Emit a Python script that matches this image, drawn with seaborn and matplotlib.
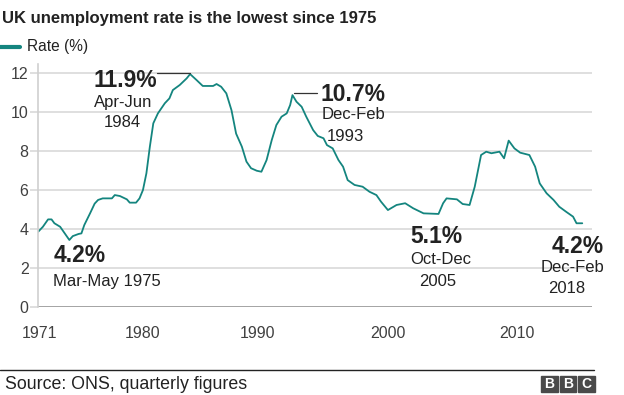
import matplotlib.pyplot as plt
import seaborn as sns
import pandas as pd
from matplotlib.patches import Rectangle
from matplotlib.lines import Line2D

# values
years = [1971.0, 1971.4, 1971.85, 1972.15, 1972.4, 1972.9, 1973.3, 1973.7, 1974.0, 1974.5,
         1974.75, 1975.0, 1975.5, 1975.9, 1976.2, 1976.6, 1977.4, 1977.65, 1978.1, 1978.7,
         1978.95, 1979.5, 1979.8, 1980.1, 1980.4, 1980.7, 1981.0, 1981.4, 1982.0, 1982.4,
         1982.7, 1983.3, 1983.9, 1984.2, 1984.75, 1985.3, 1986.2, 1986.5, 1986.9, 1987.35,
         1987.8, 1988.2, 1988.7, 1989.1, 1989.5, 1990.0, 1990.4, 1990.85, 1991.3, 1991.7,
         1992.15, 1992.6, 1992.9, 1993.1, 1993.45, 1993.9, 1994.3, 1994.9, 1995.3, 1995.8,
         1996.1, 1996.6, 1997.1, 1997.5, 1997.9, 1998.5, 1999.2, 1999.8, 2000.4, 2000.8,
         2001.4, 2002.15, 2002.9, 2003.6, 2004.5, 2005.8, 2006.2, 2006.5, 2007.4, 2007.9,
         2008.5, 2008.95, 2009.5, 2009.95, 2010.4, 2011.1, 2011.5, 2011.9, 2012.4, 2012.9,
         2013.7, 2014.2, 2014.6, 2015.2, 2015.8, 2016.3, 2016.9, 2017.5, 2017.8, 2018.3]
rates = [3.86, 4.11, 4.49, 4.49, 4.29, 4.11, 3.77, 3.43, 3.63, 3.74,
         3.77, 4.2, 4.8, 5.3, 5.49, 5.57, 5.57, 5.74, 5.69, 5.52,
         5.35, 5.35, 5.57, 6.0, 6.86, 8.23, 9.43, 9.94, 10.46, 10.71,
         11.14, 11.4, 11.74, 11.96, 11.66, 11.35, 11.35, 11.45, 11.31, 10.97,
         10.1, 8.9, 8.23, 7.46, 7.12, 6.99, 6.94, 7.54, 8.57, 9.34,
         9.77, 9.94, 10.37, 10.88, 10.54, 10.28, 9.77, 9.08, 8.78, 8.66,
         8.31, 8.14, 7.54, 7.2, 6.51, 6.26, 6.17, 5.91, 5.74, 5.4,
         4.97, 5.23, 5.32, 5.06, 4.8, 4.77, 5.32, 5.57, 5.52, 5.28,
         5.23, 6.17, 7.8, 7.97, 7.89, 7.97, 7.63, 8.54, 8.14, 7.92,
         7.8, 7.2, 6.34, 5.83, 5.49, 5.14, 4.88, 4.63, 4.29, 4.29]

tick_pos = [1971.1, 1980.1, 1990.1, 2001.4, 2012.6]
tick_labels = ['1971', '1980', '1990', '2000', '2010']
y_ticks = [0, 2, 4, 6, 8, 10, 12]

TEAL = '#14857f'
GREY = '#404040'
W, H = 624, 395

sns.set_theme(style='white')
plt.rcParams['font.family'] = ['Liberation Sans', 'DejaVu Sans']

df = pd.DataFrame({'year': years, 'rate': rates})

fig = plt.figure(figsize=(W / 100, H / 100), dpi=100)
ax = fig.add_axes([38.3 / W, 1 - 306.7 / H, (591.7 - 38.3) / W, (306.7 - 63.6) / H])
sns.lineplot(data=df, x='year', y='rate', color=TEAL, linewidth=1.3, ax=ax)

ax.set_xlim(1971.0, 2019.12)
ax.set_ylim(0, 12.5)
ax.set_xticks(tick_pos)
ax.set_xticklabels(tick_labels)
ax.set_yticks(y_ticks)
ax.set_xlabel('')
ax.set_ylabel('')
for s in ['top', 'right', 'bottom']:
    ax.spines[s].set_visible(False)
ax.spines['left'].set_color('#d0d0d0')
ax.spines['left'].set_linewidth(1.2)
ax.yaxis.grid(True, color='#dcdcdc', linewidth=1.3)
ax.set_axisbelow(True)
ax.axhline(0, color='#a0a0a0', linewidth=1.3, zorder=1)
ax.tick_params(axis='y', length=6, width=1.3, color='#dcdcdc', pad=1,
               labelsize=11.5, labelcolor=GREY, left=True)
ax.tick_params(axis='x', length=0, pad=14, labelsize=11.5, labelcolor=GREY)

# connector lines to the peaks
ax.plot([1981.3, 1984.2], [12.0, 12.0], color='#333333', linewidth=0.9)
ax.plot([1993.2, 1995.2], [10.97, 10.97], color='#333333', linewidth=0.9)


def ftext(x, y, s, size=12, weight='normal', ha='center', color='#222222'):
    fig.text(x / W, 1 - y / H, s, fontsize=size, fontweight=weight, ha=ha,
             va='baseline', color=color)


ftext(125, 86.7, '11.9%', 16.5, 'bold')
ftext(123, 106.7, 'Apr-Jun')
ftext(122, 127.3, '1984')
ftext(320, 101, '10.7%', 16.5, 'bold', ha='left')
ftext(321.5, 119.3, 'Dec-Feb', ha='left')
ftext(326.5, 141, '1993', ha='left')
ftext(436, 242.7, '5.1%', 16.5, 'bold')
ftext(441, 264, 'Oct-Dec')
ftext(437.5, 285.7, '2005')
ftext(578, 252.7, '4.2%', 16.5, 'bold')
ftext(572, 272.3, 'Dec-Feb')
ftext(567, 292.7, '2018')
ftext(79.7, 261.7, '4.2%', 16.5, 'bold')
ftext(52.5, 286, 'Mar-May 1975', ha='left')

# title and legend
ftext(2, 23.3, 'UK unemployment rate is the lowest since 1975', 12, 'bold', ha='left',
      color='#222222')
fig.add_artist(Line2D([0, 20 / W], [1 - 46.7 / H] * 2, color=TEAL, linewidth=3))
ftext(26.7, 51.5, 'Rate (%)', 11.2, ha='left')

# footer
fig.add_artist(Line2D([0, 594 / W], [1 - 370 / H] * 2, color='#222222', linewidth=1))
ftext(5, 389, 'Source: ONS, quarterly figures', 12.8, ha='left')
for i, letter in enumerate('BBC'):
    x0 = 541 + i * 18.5
    fig.add_artist(Rectangle((x0 / W, 1 - 392 / H), 16.5 / W, 16.5 / H,
                             transform=fig.transFigure, color='#4a4a4a'))
    fig.text((x0 + 8.25) / W, 1 - 383.8 / H, letter, fontsize=10, fontweight='bold',
             color='white', ha='center', va='center')

fig.savefig('out.png', dpi=100)
